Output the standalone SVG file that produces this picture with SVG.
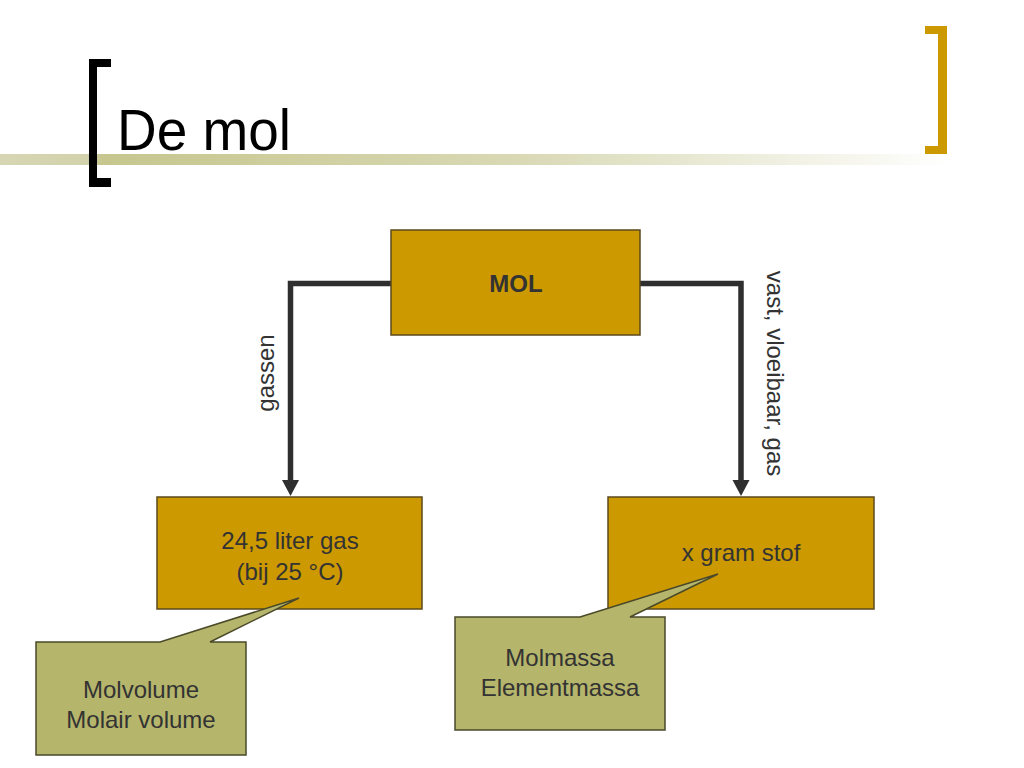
<svg xmlns="http://www.w3.org/2000/svg" width="1024" height="768" viewBox="0 0 1024 768">
<defs>
<linearGradient id="bar" x1="0" y1="0" x2="1" y2="0">
<stop offset="0" stop-color="#d6d6b4"/>
<stop offset="0.085" stop-color="#d2d2ac"/>
<stop offset="0.1" stop-color="#c6c68e"/>
<stop offset="0.5" stop-color="#d8d8b4"/>
<stop offset="0.93" stop-color="#ffffff"/>
</linearGradient>
<style>
.box{fill:#cc9900;stroke:#5c4a1c;stroke-width:1.5}
.call{fill:#b5b56b;stroke:#4a4a2a;stroke-width:1.5}
.t{font-family:"Liberation Sans",Arial,sans-serif;font-size:24px;fill:#333333;text-anchor:middle}
.conn{fill:none;stroke:#2f2f2f;stroke-width:5.5}
.head{fill:#2f2f2f}
</style>
</defs>
<rect width="1024" height="768" fill="#ffffff"/>
<g id="title">
<rect x="0" y="154" width="1024" height="11" fill="url(#bar)"/>
<path d="M89,59 H111 V67 H97 V178 H111 V187 H89 Z" fill="#000000"/>
<path d="M925,26 H947 V154 H925 V146 H938 V34 H925 Z" fill="#cc9900"/>
<text x="117" y="150" font-family="Liberation Sans,Arial,sans-serif" font-size="57" fill="#000000" textLength="174" lengthAdjust="spacingAndGlyphs">De mol</text>
</g>
<g id="connectors">
<path class="conn" d="M391,283.5 H290.5 V481"/>
<path class="head" d="M282,480 L299,480 L290.5,496 Z"/>
<path class="conn" d="M640,283.5 H741 V481"/>
<path class="head" d="M732.5,480 L749.5,480 L741,496 Z"/>
<text class="t" transform="translate(274,373) rotate(-90)">gassen</text>
<text class="t" transform="translate(767,373.5) rotate(90)" font-size="25.5">vast, vloeibaar, gas</text>
</g>
<g id="node-mol">
<rect class="box" x="391" y="230" width="249" height="105"/>
<text class="t" x="516" y="292" font-weight="bold" font-size="25">MOL</text>
</g>
<g id="node-gas">
<rect class="box" x="157" y="497" width="265" height="112"/>
<text class="t" x="290" y="549">24,5 liter gas</text>
<text class="t" x="290" y="580">(bij 25 °C)</text>
</g>
<g id="node-stof">
<rect class="box" x="608" y="497" width="266" height="112"/>
<text class="t" x="741" y="561">x gram stof</text>
</g>
<g id="callout-molvolume">
<path class="call" d="M36,642 H160 L299,598 L210,642 H246 V755 H36 Z"/>
<text class="t" x="141" y="698">Molvolume</text>
<text class="t" x="141" y="728">Molair volume</text>
</g>
<g id="callout-molmassa">
<path class="call" d="M455,617 H580 L718,574 L630,617 H665 V730 H455 Z"/>
<text class="t" x="560" y="666">Molmassa</text>
<text class="t" x="560" y="696">Elementmassa</text>
</g>
</svg>
